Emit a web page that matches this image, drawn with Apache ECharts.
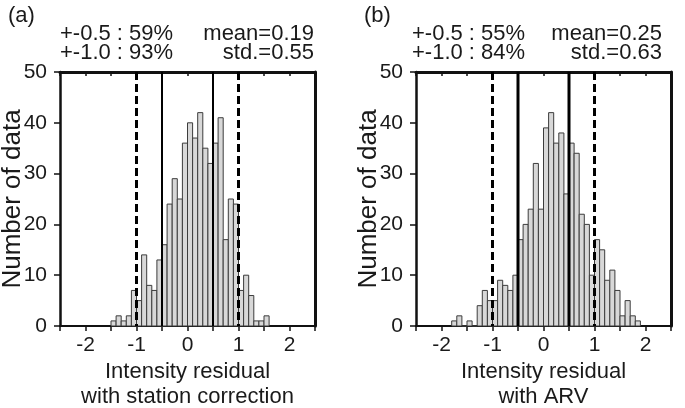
<!DOCTYPE html>
<html>
<head>
<meta charset="utf-8">
<script src="https://cdn.jsdelivr.net/npm/echarts@6/dist/echarts.min.js"></script>
<style>
html,body{margin:0;padding:0;background:#fff;}
#chart{width:685px;height:408px;}
</style>
</head>
<body>
<div id="chart"></div>
<script>
// ---- data ----
const binWidth = 0.1;
const binStartA = -1.5;
const countsA = [1,2,1,2,7,5,14,8,7,13,16,24,29,25,36,40,37,42,35,32,36,41,17,25,24,7,10,6,1,1,2];
const binStartB = -1.8;
const countsB = [1,2,0,1,0,4,7,5,5,9,8,7,10,17,20,23,32,23,39,42,36,38,26,36,34,22,20,10,17,15,9,11,7,2,5,2,1];
const panelLabels = ['(a)', '(b)'];
const statsLeft1 = ['+-0.5 : 59%', '+-0.5 : 55%'];
const statsLeft2 = ['+-1.0 : 93%', '+-1.0 : 84%'];
const statsRight1 = ['mean=0.19', 'mean=0.25'];
const statsRight2 = ['std.=0.55', 'std.=0.63'];
const xTitles = ['Intensity residual\nwith station correction', 'Intensity residual\nwith ARV'];
const yTitle = 'Number of data';
const dashedAt = [-1, 1];
const solidAt = [-0.5, 0.5];
const xMin = -2.5, xMax = 2.5, xStep = 0.5;
const yMin = 0, yMax = 50, yStep = 10;

// ---- layout ----
const FONT = "'Liberation Sans', Arial, sans-serif";
const TXT = '#1a1a1a';
const grids = [
  {left: 60, top: 72, width: 255, height: 254, containLabel: false, outerBoundsMode: 'none'},
  {left: 416, top: 72, width: 255, height: 254, containLabel: false, outerBoundsMode: 'none'}
];
const solidWidths = [2, 3];

function toBins(start, counts) {
  return counts.map((c, i) => {
    const x0 = +(start + i * binWidth).toFixed(2);
    return [x0, +(x0 + binWidth).toFixed(2), c];
  });
}
const binsList = [toBins(binStartA, countsA), toBins(binStartB, countsB)];

const xAxis = [], yAxis = [], series = [], graphic = [];
grids.forEach((g, k) => {
  xAxis.push({
    gridIndex: k, type: 'value', min: xMin, max: xMax, interval: xStep, position: 'bottom',
    axisLine: {onZero: false, lineStyle: {color: '#111', width: 2}},
    axisTick: {length: 5, lineStyle: {color: '#111', width: 1.5}},
    axisLabel: {fontFamily: FONT, fontSize: 21, color: TXT, margin: 9,
      formatter: v => Number.isInteger(v) ? String(v) : ''},
    splitLine: {show: false},
    name: xTitles[k], nameLocation: 'middle', nameGap: 33, nameMoveOverlap: false,
    nameTextStyle: {fontFamily: FONT, fontSize: 22, lineHeight: 25, color: TXT}
  });
  xAxis.push({
    gridIndex: k, type: 'value', min: xMin, max: xMax, interval: xStep, position: 'top',
    axisLine: {onZero: false, lineStyle: {color: '#111', width: 3}},
    axisTick: {inside: true, length: 4, lineStyle: {color: '#111', width: 1.5}},
    axisLabel: {show: false}, splitLine: {show: false}
  });
  yAxis.push({
    gridIndex: k, type: 'value', min: yMin, max: yMax, interval: yStep, position: 'left',
    axisLine: {show: true, onZero: false, lineStyle: {color: '#111', width: 2.5}},
    axisTick: {show: true, length: 6, lineStyle: {color: '#111', width: 1.5}},
    axisLabel: {fontFamily: FONT, fontSize: 21, color: TXT, margin: 13},
    splitLine: {show: false},
    name: yTitle, nameLocation: 'middle', nameGap: 34, nameRotate: 90, nameMoveOverlap: false,
    nameTextStyle: {fontFamily: FONT, fontSize: 26, color: TXT}
  });
  yAxis.push({
    gridIndex: k, type: 'value', min: yMin, max: yMax, interval: yStep, position: 'right',
    axisLine: {show: true, onZero: false, lineStyle: {color: '#111', width: 3}},
    axisTick: {show: false}, axisLabel: {show: false}, splitLine: {show: false}
  });
  const xi = 2 * k, yi = 2 * k;
  series.push({
    type: 'custom', xAxisIndex: xi, yAxisIndex: yi,
    data: binsList[k],
    encode: {x: [0, 1], y: 2},
    renderItem: (params, api) => {
      const p0 = api.coord([api.value(0), api.value(2)]);
      const p1 = api.coord([api.value(1), 0]);
      return {type: 'rect',
        shape: {x: p0[0], y: p0[1], width: p1[0] - p0[0], height: p1[1] - p0[1]},
        style: {fill: '#d8d8d8', stroke: '#3c3c3c', lineWidth: 1}};
    },
    z: 2
  });
  dashedAt.forEach(v => series.push({
    type: 'line', xAxisIndex: xi, yAxisIndex: yi, data: [[v, yMax], [v, yMin]],
    symbol: 'none', silent: true, z: 5,
    lineStyle: {color: '#000', width: 3, type: [8, 4]}
  }));
  solidAt.forEach(v => series.push({
    type: 'line', xAxisIndex: xi, yAxisIndex: yi, data: [[v, yMax], [v, yMin]],
    symbol: 'none', silent: true, z: 5,
    lineStyle: {color: '#000', width: solidWidths[k]}
  }));
  const lx = g.left, rx = g.left + g.width - 1;
  const font = '22px ' + FONT;
  graphic.push({type: 'text', left: k === 0 ? 8 : 364, top: 5,
    style: {text: panelLabels[k], font: font, fill: TXT}});
  graphic.push({type: 'text', x: lx - (k === 0 ? 0 : 4), y: 34,
    style: {text: statsLeft1[k], font: font, fill: TXT, textAlign: 'left', textVerticalAlign: 'middle'}});
  graphic.push({type: 'text', x: lx - (k === 0 ? 0 : 4), y: 53,
    style: {text: statsLeft2[k], font: font, fill: TXT, textAlign: 'left', textVerticalAlign: 'middle'}});
  graphic.push({type: 'text', x: rx - (k === 0 ? 0 : 8), y: 34,
    style: {text: statsRight1[k], font: font, fill: TXT, textAlign: 'right', textVerticalAlign: 'middle'}});
  graphic.push({type: 'text', x: rx - (k === 0 ? 0 : 8), y: 53,
    style: {text: statsRight2[k], font: font, fill: TXT, textAlign: 'right', textVerticalAlign: 'middle'}});
});

const chart = echarts.init(document.getElementById('chart'), null, {renderer: 'canvas'});
chart.setOption({
  animation: false,
  backgroundColor: '#fff',
  grid: grids,
  xAxis, yAxis, series, graphic
});
</script>
</body>
</html>
